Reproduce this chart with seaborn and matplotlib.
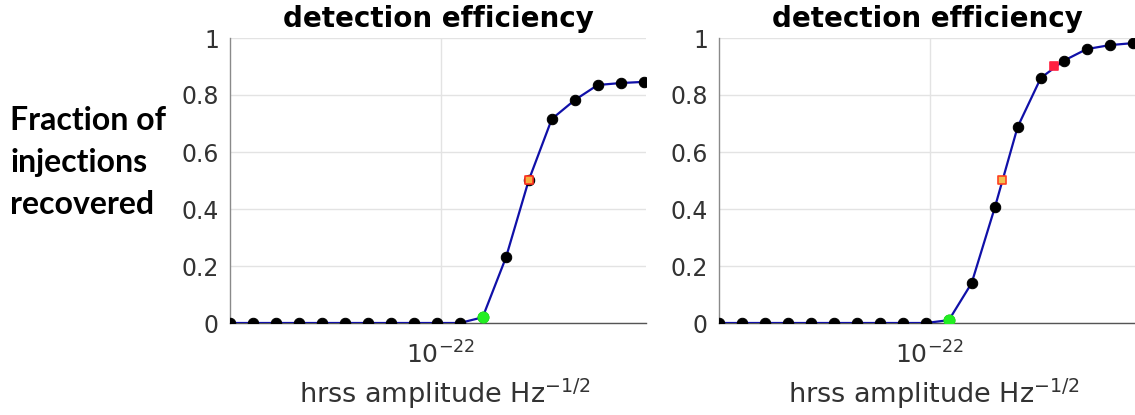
import matplotlib
matplotlib.use("Agg")
import matplotlib.pyplot as plt
import matplotlib.ticker as mticker
import seaborn as sns
import pandas as pd

# ---- data ----
hrss = [1.21e-23, 1.52e-23, 1.92e-23, 2.41e-23, 3.04e-23, 3.82e-23, 4.81e-23,
        6.06e-23, 7.63e-23, 9.61e-23, 1.21e-22, 1.52e-22, 1.92e-22, 2.41e-22,
        3.04e-22, 3.82e-22, 4.81e-22, 6.06e-22, 7.63e-22]
eff_left = [0, 0, 0, 0, 0, 0, 0, 0, 0, 0, 0,
            0.02, 0.23, 0.50, 0.716, 0.782, 0.835, 0.842, 0.846]
eff_right = [0, 0, 0, 0, 0, 0, 0, 0, 0, 0,
             0.01, 0.14, 0.407, 0.688, 0.86, 0.92, 0.961, 0.975, 0.982]
thresh_left = (1.52e-22, 0.02)
thresh_right = (1.21e-22, 0.01)
p50_left = (2.41e-22, 0.50)
p50_right = (2.07e-22, 0.50)
p90_right = (3.46e-22, 0.90)
yticks = [0, 0.2, 0.4, 0.6, 0.8, 1]
yticklabels = ["0", "0.2", "0.4", "0.6", "0.8", "1"]
xtick = [1e-22]
xticklabel = ["10$^{-22}$"]
title = "detection efficiency"
xlabel = "hrss amplitude Hz$^{-1/2}$"
ylabel = "Fraction of\ninjections\nrecovered"

sns.set_theme(style="white")
plt.rcParams["font.family"] = ["DejaVu Sans"]

W, H = 1135, 415
fig = plt.figure(figsize=(W / 100, H / 100), dpi=100)

line_color = "#1010a8"
grid_color = "#e3e3e3"
text_gray = "#333333"

def panel(rect, eff, thresh, pcts):
    ax = fig.add_axes(rect)
    df = pd.DataFrame({"hrss": hrss, "eff": eff})
    sns.lineplot(data=df, x="hrss", y="eff", ax=ax, color=line_color, lw=1.6,
                 marker="o", markersize=7.5, markerfacecolor="black",
                 markeredgecolor="black", zorder=3)
    sns.scatterplot(x=[thresh[0]], y=[thresh[1]], ax=ax, color="#22ee22",
                    s=65, edgecolor="#22ee22", zorder=5)
    for (px, py), fc, ec in pcts:
        sns.scatterplot(x=[px], y=[py], ax=ax, marker="s", s=28,
                        color=fc, edgecolor=ec, linewidth=1.2, zorder=6)
    ax.set_xscale("log")
    ax.set_xlim(hrss[0], hrss[-1] * 10 ** 0.01)
    ax.set_ylim(0, 1)
    ax.set_yticks(yticks)
    ax.set_yticklabels(yticklabels)
    ax.xaxis.set_major_locator(mticker.FixedLocator(xtick))
    ax.xaxis.set_major_formatter(mticker.FixedFormatter(xticklabel))
    ax.xaxis.set_minor_locator(mticker.NullLocator())
    ax.grid(True, color=grid_color, lw=1.0)
    ax.set_axisbelow(True)
    for s in ["top", "right"]:
        ax.spines[s].set_visible(False)
    ax.spines["left"].set_color("#8a8a8a")
    ax.spines["left"].set_linewidth(1.0)
    ax.spines["bottom"].set_color("#555555")
    ax.spines["bottom"].set_linewidth(1.0)
    ax.tick_params(axis="y", direction="in", length=3, width=0.8,
                   color="#777777", labelsize=17, labelcolor=text_gray, pad=8)
    ax.tick_params(axis="x", length=0, labelsize=18, labelcolor=text_gray, pad=13)
    ax.set_title(title, fontsize=20, fontweight="bold", color="black", pad=8)
    ax.set_xlabel(xlabel, fontsize=19.5, color=text_gray, labelpad=6)
    ax.xaxis.label.set_x(0.5 + 7 / 416)
    ax.set_ylabel("")
    return ax

bottom = 1 - 323 / H
height = 285 / H
width = 416 / W
panel([230 / W, bottom, width, height], eff_left, thresh_left,
      [(p50_left, "#f5b040", "#ff3020")])
panel([719 / W, bottom, width, height], eff_right, thresh_right,
      [(p50_right, "#f0c050", "#ff4020"), (p90_right, "#ff2040", "#ff2040")])

fig.text(10 / W, 1 - 106 / H, ylabel, fontsize=23, fontweight="bold",
         family=["Lato", "DejaVu Sans"], color="black", ha="left", va="top",
         linespacing=1.55)

fig.savefig("out.png", dpi=100)
